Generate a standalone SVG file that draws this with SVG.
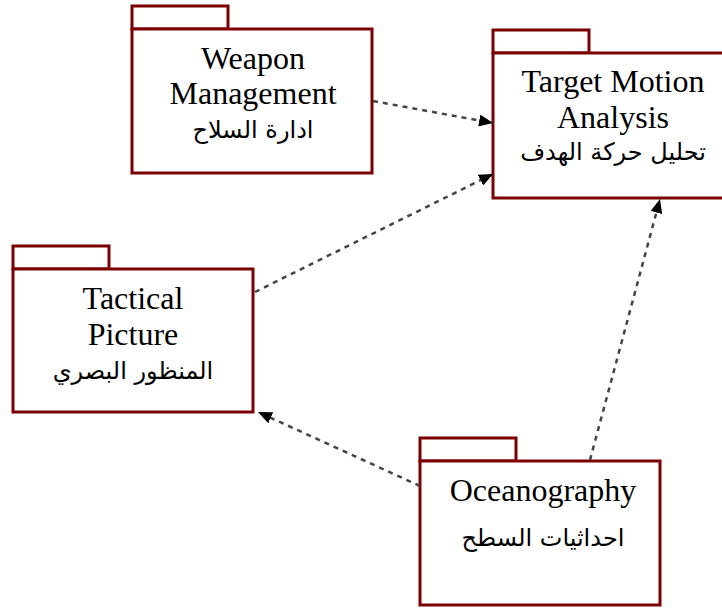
<svg xmlns="http://www.w3.org/2000/svg" width="722" height="608" viewBox="0 0 722 608">
<style>
.box{fill:#fff;stroke:#7d0000;stroke-width:3}
.en{font-family:"Liberation Serif","Times New Roman",serif;font-size:32px;fill:#000;text-anchor:middle}
.ar{font-family:"DejaVu Sans","Noto Sans",sans-serif;font-size:24px;fill:#000;text-anchor:middle}
.dep{fill:none;stroke:#444;stroke-width:2.5;stroke-dasharray:5 5}
</style>
<defs>
<marker id="ah" viewBox="0 0 14 12" refX="14" refY="6" markerWidth="14" markerHeight="12" markerUnits="userSpaceOnUse" orient="auto">
<path d="M0,0 L14,6 L0,12 Z" fill="#000"/>
</marker>
</defs>
<rect width="722" height="608" fill="#fff"/>
<g id="weapon-management">
<rect class="box" x="132" y="6" width="96" height="23"/>
<rect class="box" x="132" y="29" width="240" height="144"/>
<text class="en" x="253" y="69">Weapon</text>
<text class="en" x="253" y="104">Management</text>
<text class="ar" x="253" y="138">ادارة السلاح</text>
</g>
<g id="target-motion-analysis">
<rect class="box" x="493" y="30" width="96" height="23"/>
<rect class="box" x="493" y="53" width="242" height="145"/>
<text class="en" x="613" y="92">Target Motion</text>
<text class="en" x="613" y="128">Analysis</text>
<text class="ar" x="613" y="160">تحليل حركة الهدف</text>
</g>
<g id="tactical-picture">
<rect class="box" x="13" y="246" width="96" height="23"/>
<rect class="box" x="13" y="269" width="240" height="143"/>
<text class="en" x="133" y="309">Tactical</text>
<text class="en" x="133" y="345">Picture</text>
<text class="ar" x="133" y="379">المنظور البصري</text>
</g>
<g id="oceanography">
<rect class="box" x="420" y="438" width="96" height="23"/>
<rect class="box" x="420" y="461" width="240" height="144"/>
<text class="en" x="543" y="501">Oceanography</text>
<text class="ar" x="543" y="546">احداثيات السطح</text>
</g>
<g id="connectors">
<line class="dep" x1="373" y1="101" x2="493" y2="123" marker-end="url(#ah)"/>
<line class="dep" x1="255" y1="292" x2="493" y2="174" marker-end="url(#ah)"/>
<line class="dep" x1="590" y1="460" x2="660" y2="199" marker-end="url(#ah)"/>
<line class="dep" x1="420" y1="486" x2="258" y2="412" marker-end="url(#ah)"/>
</g>
</svg>
